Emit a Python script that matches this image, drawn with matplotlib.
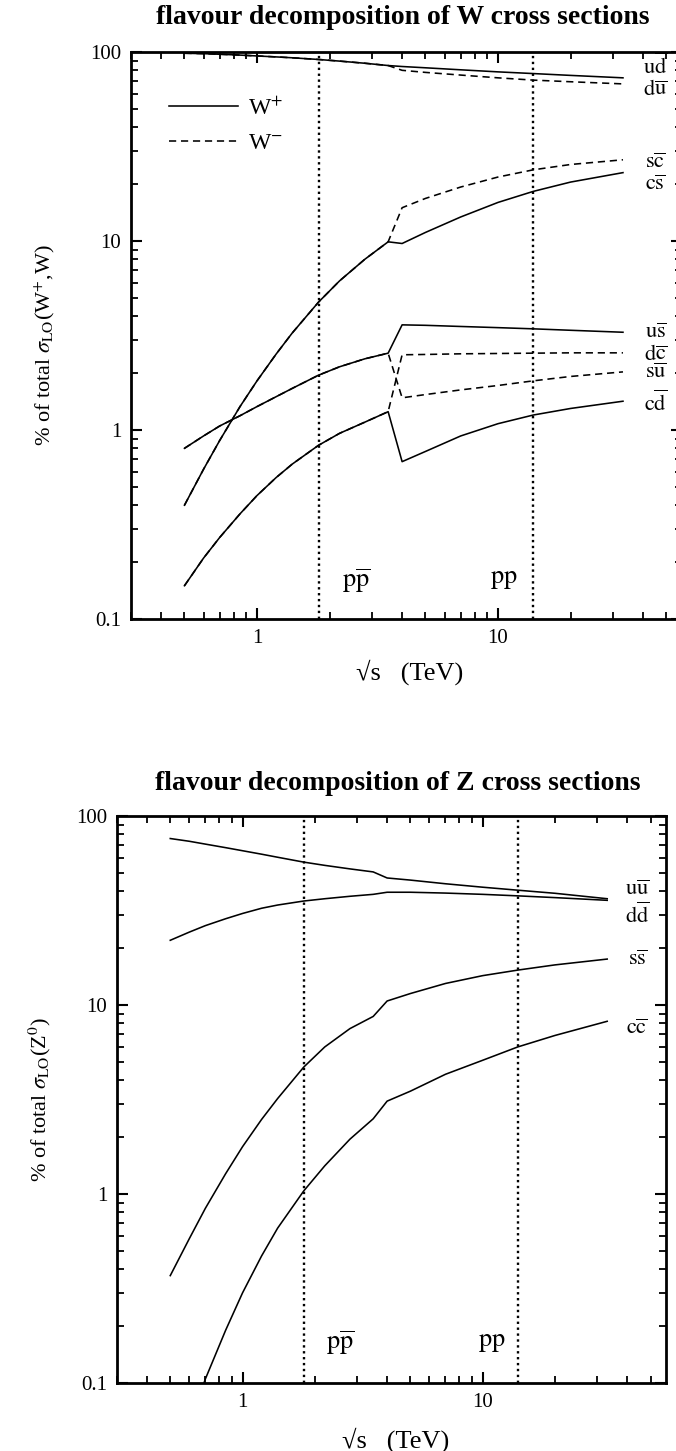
import numpy as np
import matplotlib
matplotlib.use("Agg")
import matplotlib.pyplot as plt
from matplotlib.ticker import FixedLocator, LogLocator, NullFormatter, FixedFormatter

plt.rcParams['font.family'] = ['Liberation Serif', 'DejaVu Serif']
plt.rcParams['mathtext.fontset'] = 'stix'

# ---------------- data : W panel ----------------
sqrt_s_pre = [0.5, 0.6, 0.7, 0.85, 1.0, 1.2, 1.4, 1.8, 2.2, 2.8, 3.5]
sqrt_s_post = [4.0, 5.0, 7.0, 10.0, 14.0, 20.0, 33.0]

ud_pre = [98.5, 98.0, 97.3, 96.3, 95.3, 94.2, 93.2, 91.3, 89.5, 87.2, 84.8]  # shared W+ ud / W- du
ud_post = [83.8, 82.5, 80.5, 78.5, 76.9, 75.2, 73.0]
du_post = [80.0, 78.0, 75.5, 73.0, 71.0, 69.6, 67.8]

cs_pre = [0.4, 0.62, 0.88, 1.33, 1.82, 2.52, 3.26, 4.75, 6.15, 8.0, 9.9]    # shared W+ cs / W- sc
cs_post = [9.7, 11.1, 13.4, 16.0, 18.3, 20.5, 23.0]
sc_post = [15.0, 16.8, 19.3, 21.8, 23.8, 25.4, 26.9]

us_pre = [0.8, 0.93, 1.05, 1.19, 1.33, 1.5, 1.66, 1.95, 2.16, 2.38, 2.55]   # shared W+ us / W- su
us_post = [3.6, 3.58, 3.53, 3.48, 3.43, 3.37, 3.29]
su_post = [1.48, 1.54, 1.63, 1.72, 1.82, 1.92, 2.03]

cd_pre = [0.15, 0.21, 0.27, 0.36, 0.45, 0.56, 0.66, 0.83, 0.96, 1.1, 1.25]  # shared W+ cd / W- dc
cd_post = [0.68, 0.77, 0.93, 1.08, 1.2, 1.3, 1.42]
dc_post = [2.5, 2.51, 2.53, 2.54, 2.55, 2.56, 2.56]

# ---------------- data : Z panel ----------------
sqrt_s_z = [0.5, 0.6, 0.7, 0.85, 1.0, 1.2, 1.4, 1.8, 2.2, 2.8, 3.5,
            4.0, 5.0, 7.0, 10.0, 14.0, 20.0, 33.0]
uu_z = [76.0, 73.5, 71.0, 68.0, 65.5, 62.8, 60.5, 57.0, 54.8, 52.5, 50.6,
        47.0, 45.8, 43.8, 42.0, 40.5, 39.0, 36.5]
dd_z = [22.0, 24.3, 26.3, 28.6, 30.5, 32.5, 33.8, 35.5, 36.5, 37.6, 38.5,
        39.5, 39.5, 39.1, 38.5, 37.8, 37.0, 35.8]
ss_z = [0.37, 0.58, 0.84, 1.28, 1.78, 2.48, 3.2, 4.7, 6.0, 7.5, 8.7,
        10.5, 11.5, 13.0, 14.3, 15.3, 16.3, 17.5]
cc_z = [0.03, 0.06, 0.105, 0.19, 0.3, 0.47, 0.66, 1.04, 1.41, 1.95, 2.5,
        3.1, 3.5, 4.3, 5.1, 6.0, 6.9, 8.2]

collider_energies = [1.8, 14.0]
collider_labels = [r'$\mathrm{p}\overline{\mathrm{p}}$', r'$\mathrm{pp}$']

w_labels = [r'$\mathrm{u}\overline{\mathrm{d}}$', r'$\mathrm{d}\overline{\mathrm{u}}$',
            r'$\mathrm{s}\overline{\mathrm{c}}$', r'$\mathrm{c}\overline{\mathrm{s}}$',
            r'$\mathrm{u}\overline{\mathrm{s}}$', r'$\mathrm{d}\overline{\mathrm{c}}$',
            r'$\mathrm{s}\overline{\mathrm{u}}$', r'$\mathrm{c}\overline{\mathrm{d}}$']
z_labels = [r'$\mathrm{u}\overline{\mathrm{u}}$', r'$\mathrm{d}\overline{\mathrm{d}}$',
            r'$\mathrm{s}\overline{\mathrm{s}}$', r'$\mathrm{c}\overline{\mathrm{c}}$']

y_ticks = [0.1, 1, 10, 100]
y_ticklabels = ['0.1', '1', '10', '100']
x_ticks = [1, 10]
x_ticklabels = ['1', '10']

# ---------------- layout ----------------
W, H = 676, 1451
fig = plt.figure(figsize=(W / 100, H / 100), dpi=100)

def ax_rect(l, r, t, b):
    return [l / W, (H - b) / H, (r - l) / W, (b - t) / H]

axW = fig.add_axes(ax_rect(131, 682, 52, 619))
axZ = fig.add_axes(ax_rect(117, 666, 816, 1383))

LW = 1.15
DASH = (0, (4.5, 3))

def style(ax):
    ax.set_xscale('log')
    ax.set_yscale('log')
    ax.set_xlim(0.3, 58)
    ax.set_ylim(0.1, 100)
    ax.yaxis.set_major_locator(FixedLocator(y_ticks))
    ax.yaxis.set_major_formatter(FixedFormatter(y_ticklabels))
    ax.xaxis.set_major_locator(FixedLocator(x_ticks))
    ax.xaxis.set_major_formatter(FixedFormatter(x_ticklabels))
    ax.xaxis.set_minor_locator(LogLocator(base=10, subs=np.arange(2, 10)))
    ax.yaxis.set_minor_locator(LogLocator(base=10, subs=np.arange(2, 10)))
    ax.xaxis.set_minor_formatter(NullFormatter())
    ax.yaxis.set_minor_formatter(NullFormatter())
    ax.tick_params(which='both', direction='in', top=True, right=True,
                   labelsize=15, pad=7, color='black')
    ax.tick_params(which='major', length=8, width=1.5)
    ax.tick_params(which='minor', length=5, width=1.3)
    for s in ax.spines.values():
        s.set_linewidth(2.0)
    for e in collider_energies:
        ax.axvline(e, color='black', lw=1.7, ls=(0, (1, 1.5)))

style(axW)
style(axZ)

# ---- W panel curves ----
x_full = sqrt_s_pre + sqrt_s_post
l1, = axW.plot(x_full, ud_pre + ud_post, color='black', lw=LW, label=r'W$^{+}$')
l2, = axW.plot(x_full, ud_pre + du_post, color='black', lw=LW, ls=DASH, label=r'W$^{-}$')
axW.plot(x_full, cs_pre + cs_post, color='black', lw=LW)
axW.plot(x_full, cs_pre + sc_post, color='black', lw=LW, ls=DASH)
axW.plot(x_full, us_pre + us_post, color='black', lw=LW)
axW.plot(x_full, us_pre + su_post, color='black', lw=LW, ls=DASH)
axW.plot(x_full, cd_pre + cd_post, color='black', lw=LW)
axW.plot(x_full, cd_pre + dc_post, color='black', lw=LW, ls=DASH)

leg = axW.legend(handles=[l1, l2], loc='upper left', bbox_to_anchor=(0.031, 0.958),
                 frameon=False, fontsize=17, handlelength=2.9, handletextpad=0.45,
                 labelspacing=0.55)

w_label_y = [84.4, 63.0, 25.9, 19.8, 3.26, 2.5, 2.0, 1.39]
for lab, yy in zip(w_labels, w_label_y):
    axW.text(45, yy, lab, fontsize=16, ha='center', va='center')

# ---- Z panel curves ----
axZ.plot(sqrt_s_z, uu_z, color='black', lw=LW)
axZ.plot(sqrt_s_z, dd_z, color='black', lw=LW)
axZ.plot(sqrt_s_z, ss_z, color='black', lw=LW)
axZ.plot(sqrt_s_z, cc_z, color='black', lw=LW)

z_label_y = [40.5, 29.8, 17.3, 7.4]
for lab, yy in zip(z_labels, z_label_y):
    axZ.text(44, yy, lab, fontsize=16, ha='center', va='center')

# collider labels
for ax, xs, yl in [(axW, [2.57, 10.6], 0.16), (axZ, [2.54, 10.9], 0.163)]:
    for xx, lab in zip(xs, collider_labels):
        ax.text(xx, yl, lab, fontsize=19, ha='center', va='center')

# titles / axis labels (figure pixel positions)
def ftext(x, y, s, **kw):
    fig.text(x / W, 1 - y / H, s, **kw)

ftext(403, 17, 'flavour decomposition of W cross sections', fontsize=20,
      fontweight='bold', ha='center', va='center')
ftext(398, 783, 'flavour decomposition of Z cross sections', fontsize=20,
      fontweight='bold', ha='center', va='center')

ftext(410, 672, '√s   (TeV)', fontsize=19, ha='center', va='center')
ftext(396, 1440, '√s   (TeV)', fontsize=19, ha='center', va='center')

ftext(45, 345, r'% of total $\sigma_{\rm LO}$(W$^{+}$,W)', fontsize=16,
      rotation=90, ha='center', va='center')
ftext(40, 1100, r'% of total $\sigma_{\rm LO}$(Z$^{0}$)', fontsize=16,
      rotation=90, ha='center', va='center')

fig.savefig('out.png', dpi=100)
